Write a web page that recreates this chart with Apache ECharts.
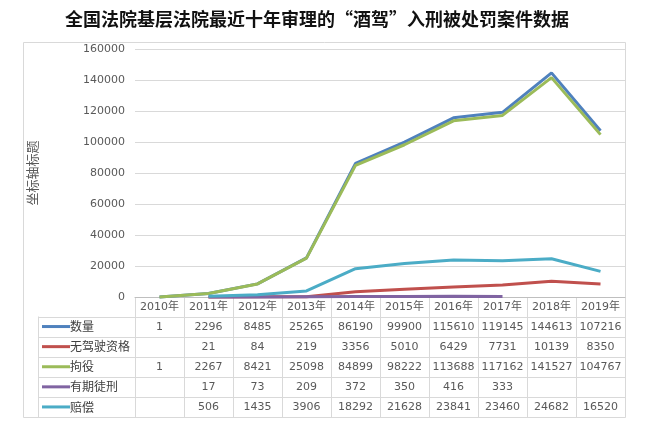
<!DOCTYPE html>
<html>
<head>
<meta charset="utf-8">
<script src="https://cdn.jsdelivr.net/npm/echarts@6/dist/echarts.min.js"></script>
<style>
html,body{margin:0;padding:0;background:#fff;}
#c{width:655px;height:437px;}
</style>
</head>
<body>
<div id="c"></div>
<script>
var titleText = '全国法院基层法院最近十年审理的“酒驾”入刑被处罚案件数据';
var yAxisTitle = '坐标轴标题';
var categories = ['2010年','2011年','2012年','2013年','2014年','2015年','2016年','2017年','2018年','2019年'];
var seriesNames = ['数量','无驾驶资格','拘役','有期徒刑','赔偿'];
var seriesColors = ['#4F81BD','#C0504D','#9BBB59','#8064A2','#4BACC6'];
var shuliang = [1,2296,8485,25265,86190,99900,115610,119145,144613,107216];
var wujiashi = [null,21,84,219,3356,5010,6429,7731,10139,8350];
var juyi = [1,2267,8421,25098,84899,98222,113688,117162,141527,104767];
var youqi = [null,17,73,209,372,350,416,333,null,null];
var peichang = [null,506,1435,3906,18292,21628,23841,23460,24682,16520];
var yTicks = [0,20000,40000,60000,80000,100000,120000,140000,160000];

var allData = [shuliang, wujiashi, juyi, youqi, peichang];

var chart = echarts.init(document.getElementById('c'), null, {renderer:'canvas'});
var numFont = '"DejaVu Sans", "Noto Sans CJK SC", sans-serif';
var cjkFont = '"Noto Sans CJK SC", sans-serif';
var lineGray = '#D9D9D9';

var option = {
  backgroundColor: '#fff',
  animation: false,
  grid: {left: 135, right: 30, top: 49, bottom: 140, containLabel: false},
  xAxis: {
    type: 'category',
    data: categories,
    boundaryGap: true,
    axisLine: {show: true, lineStyle: {color: '#BFBFBF', width: 1}},
    axisTick: {show: false},
    axisLabel: {show: false},
    splitLine: {show: false}
  },
  yAxis: {
    type: 'value',
    min: yTicks[0],
    max: yTicks[yTicks.length-1],
    interval: yTicks[1]-yTicks[0],
    name: yAxisTitle,
    nameLocation: 'middle',
    nameGap: 96,
    nameRotate: 90,
    nameTextStyle: {fontFamily: cjkFont, fontSize: 13, color: '#595959'},
    axisLine: {show: false},
    axisTick: {show: false},
    axisLabel: {fontFamily: numFont, fontSize: 11, color: '#595959', margin: 10,
      formatter: function(v){ return String(v); }},
    splitLine: {show: true, lineStyle: {color: lineGray, width: 1}}
  },
  series: seriesNames.map(function(n, i){
    return {
      name: n, type: 'line', data: allData[i], symbol: 'none', clip: false,
      connectNulls: false,
      lineStyle: {color: seriesColors[i], width: 3},
      itemStyle: {color: seriesColors[i]}
    };
  })
};
chart.setOption(option);

// Build title, border and data table
var c0 = chart.convertToPixel({xAxisIndex:0}, 0);
var c1 = chart.convertToPixel({xAxisIndex:0}, 1);
var colW = c1 - c0;
var tableLeft = c0 - colW/2;
var tableRight = tableLeft + colW*categories.length;
var headerTop = chart.convertToPixel({yAxisIndex:0}, 0);
var headerBottom = headerTop + 19.5;
var rowH = 20.1;
var legendLeft = 38;
var borderLeft = 23, borderTop = 42;
var tableBottom = headerBottom + rowH*seriesNames.length;

var g = [];
g.push({type:'rect', shape:{x:borderLeft+0.5, y:borderTop+0.5, width:tableRight-borderLeft, height:tableBottom-borderTop}, style:{fill:null, stroke:lineGray, lineWidth:1}, z:-1});
g.push({type:'text', x:317, y:19, style:{text:titleText, font:'bold 18px '+cjkFont, fill:'#111', textAlign:'center', textVerticalAlign:'middle'}});

function hline(x1,x2,y){ g.push({type:'line', shape:{x1:x1,y1:Math.round(y)+0.5,x2:x2,y2:Math.round(y)+0.5}, style:{stroke:lineGray, lineWidth:1}}); }
function vline(x,y1,y2){ g.push({type:'line', shape:{x1:Math.round(x)+0.5,y1:y1,x2:Math.round(x)+0.5,y2:y2}, style:{stroke:lineGray, lineWidth:1}}); }

for (var k=0;k<=categories.length;k++){ vline(tableLeft+k*colW, headerTop, tableBottom); }
vline(legendLeft, headerBottom, tableBottom);
for (var r=0;r<=seriesNames.length;r++){ hline(legendLeft, tableRight, headerBottom + r*rowH); }

categories.forEach(function(cat, i){
  g.push({type:'text', x: tableLeft + (i+0.5)*colW, y: (headerTop+headerBottom)/2+0.5, style:{text:cat, font:'11px '+numFont, fill:'#595959', textAlign:'center', textVerticalAlign:'middle'}});
});
seriesNames.forEach(function(n, r){
  var cy = headerBottom + (r+0.5)*rowH;
  g.push({type:'line', shape:{x1:42, y1:cy, x2:70, y2:cy}, style:{stroke:seriesColors[r], lineWidth:3}});
  g.push({type:'text', x:70, y:cy, style:{text:n, font:'12px '+cjkFont, fill:'#404040', textAlign:'left', textVerticalAlign:'middle'}});
  allData[r].forEach(function(v, i){
    if (v === null) return;
    g.push({type:'text', x: tableLeft + (i+0.5)*colW, y: cy+0.5, style:{text:String(v), font:'11px '+numFont, fill:'#595959', textAlign:'center', textVerticalAlign:'middle'}});
  });
});

chart.setOption({graphic: g});
</script>
</body>
</html>
